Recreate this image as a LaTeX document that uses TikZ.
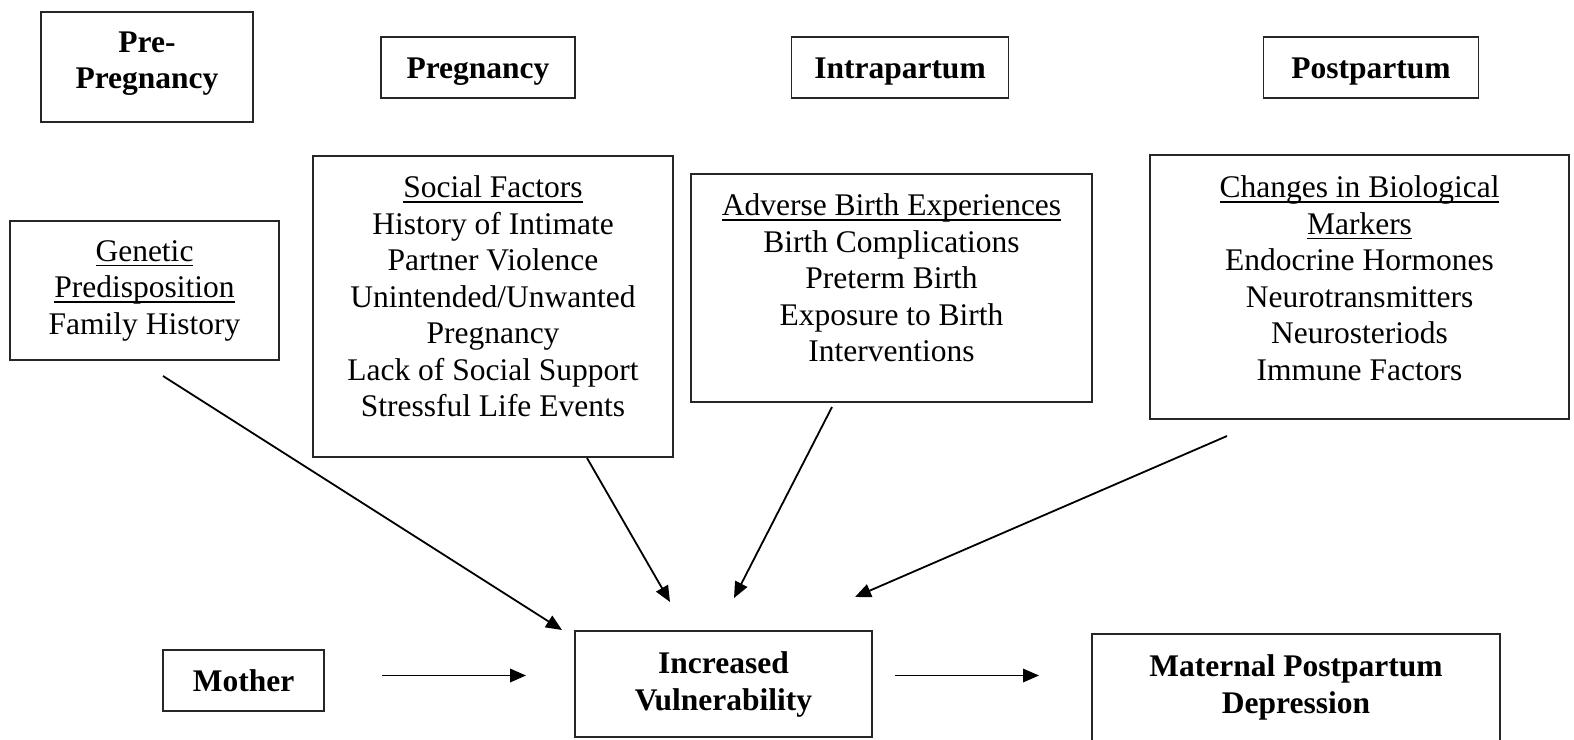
\documentclass[tikz,border=0pt]{standalone}
\usepackage{fontspec}
\setmainfont{Liberation Serif}
\usetikzlibrary{arrows.meta}
\newcommand{\ulx}[1]{\setbox0\hbox{#1}\rlap{\rule[-5pt]{\wd0}{1.4pt}}\box0}
\newcommand{\lines}[1]{\begin{tabular}[t]{@{}c@{}}#1\end{tabular}}
\begin{document}
\begin{tikzpicture}[x=1pt,y=-1pt,
  box/.style={draw=black!85, line width=1.5pt, inner sep=0pt},
  txt/.style={inner sep=0pt, anchor=base, font=\fontsize{31.5}{36.5}\selectfont},
  btxt/.style={inner sep=0pt, anchor=base, font=\fontsize{31.5}{36.5}\selectfont\bfseries},
  arr/.style={line width=1.8pt, -{Triangle[length=16pt,width=13.5pt]}}]
\useasboundingbox (0,0) rectangle (1574,739);

% phase boxes
\node[box, minimum width=212pt, minimum height=110pt] (pre) at (147,67) {};
\node[btxt] (preT) at (147,52) {\lines{Pre-\\Pregnancy}};
\node[box, minimum width=194pt, minimum height=61pt] (preg) at (478,67.5) {};
\node[btxt] (pregT) at (478,78) {Pregnancy};
\node[box, minimum width=217pt, minimum height=61pt] (intra) at (900,67.5) {};
\node[btxt] (intraT) at (900,78) {Intrapartum};
\node[box, minimum width=215pt, minimum height=61pt] (post) at (1371,67.5) {};
\node[btxt] (postT) at (1371,78) {Postpartum};

% factor boxes
\node[box, minimum width=269pt, minimum height=139pt] (gen) at (144.5,290.5) {};
\node[txt] (genT) at (144.5,261) {\lines{\ulx{Genetic}\\\ulx{Predisposition}\\Family History}};
\node[box, minimum width=360pt, minimum height=301pt] (soc) at (493,306.5) {};
\node[txt] (socT) at (493,197.5) {\lines{\ulx{Social Factors}\\History of Intimate\\Partner Violence\\Unintended/Unwanted\\Pregnancy\\Lack of Social Support\\Stressful Life Events}};
\node[box, minimum width=401pt, minimum height=228pt] (adv) at (891.5,288) {};
\node[txt] (advT) at (891.5,215.5) {\lines{\ulx{Adverse Birth Experiences}\\Birth Complications\\Preterm Birth\\Exposure to Birth\\Interventions}};
\node[box, minimum width=419pt, minimum height=264pt] (bio) at (1359.5,287) {};
\node[txt] (bioT) at (1359.5,197.5) {\lines{\ulx{Changes in Biological}\\\ulx{Markers}\\Endocrine Hormones\\Neurotransmitters\\Neurosteriods\\Immune Factors}};

% bottom row
\node[box, minimum width=161pt, minimum height=61pt] (mom) at (243.5,680.5) {};
\node[btxt] (momT) at (243.5,691) {Mother};
\node[box, minimum width=297pt, minimum height=106pt] (iv) at (723.5,684) {};
\node[btxt] (ivT) at (723.5,673.5) {\lines{Increased\\Vulnerability}};
\node[box, minimum width=408pt, minimum height=112pt] (mpd) at (1296,690) {};
\node[btxt] (mpdT) at (1296,676.5) {\lines{Maternal Postpartum\\Depression}};

% connector end points
\coordinate (g1) at (163,376);   \coordinate (g2) at (562,630);
\coordinate (s1) at (587,458);   \coordinate (s2) at (670,602);
\coordinate (a1) at (832,407);   \coordinate (a2) at (734,598);
\coordinate (b1) at (1227,436);  \coordinate (b2) at (855,597);
\coordinate (m1) at (382,675.5); \coordinate (m2) at (526,675.5);
\coordinate (v1) at (895,675.5); \coordinate (v2) at (1039,675.5);

\draw[arr] (g1) -- (g2);
\draw[arr] (s1) -- (s2);
\draw[arr] (a1) -- (a2);
\draw[arr] (b1) -- (b2);
\draw[arr] (m1) -- (m2);
\draw[arr] (v1) -- (v2);
\end{tikzpicture}
\end{document}
